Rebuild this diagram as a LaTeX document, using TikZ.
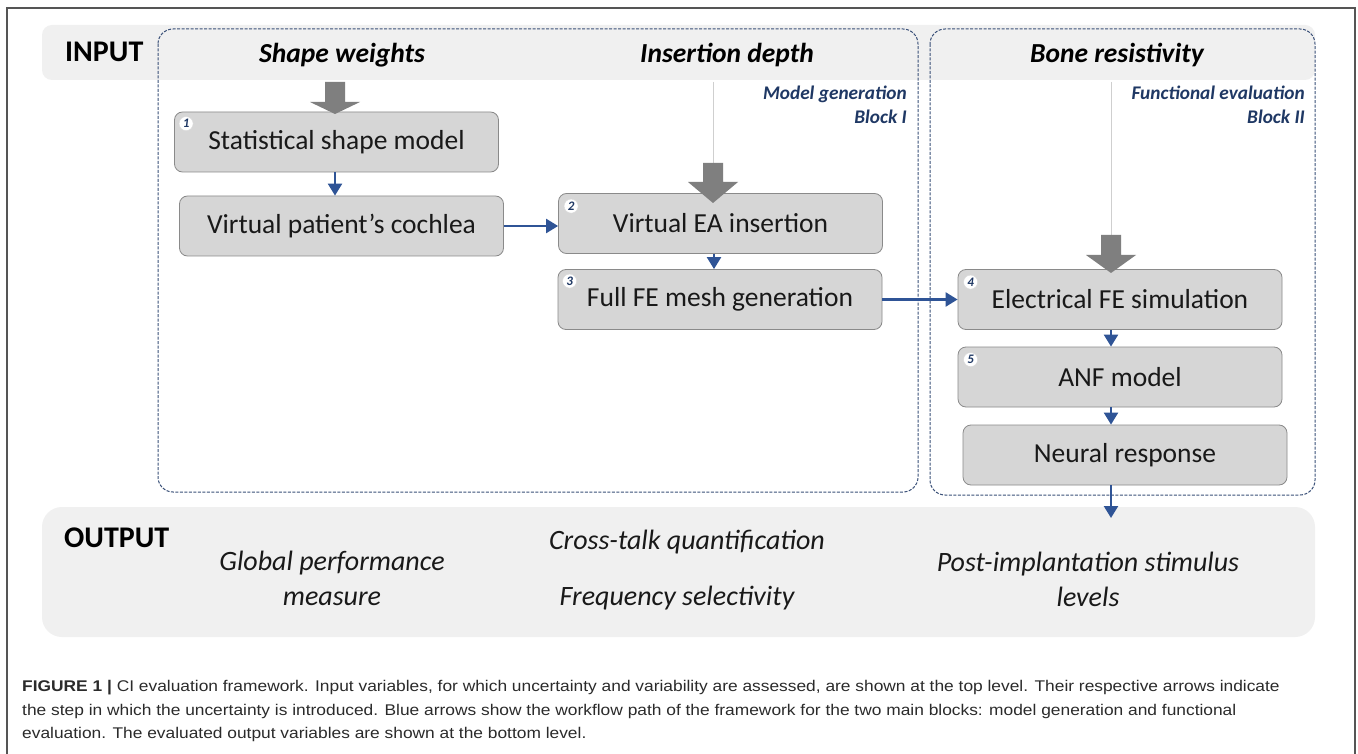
\documentclass[tikz,border=0pt]{standalone}
\usepackage{fontspec}
\usepackage{graphicx}
\setmainfont{Carlito}
\newfontfamily\capfont{Liberation Sans}
\usetikzlibrary{arrows.meta,calc}

\definecolor{bandgray}{HTML}{F0F0F0}
\definecolor{boxfill}{HTML}{D6D6D6}
\definecolor{boxline}{HTML}{8A8A8A}
\definecolor{dashblue}{HTML}{3A5078}
\definecolor{flowblue}{HTML}{2F5496}
\definecolor{navy}{HTML}{1F3864}
\definecolor{arrowgray}{HTML}{7F7F7F}
\definecolor{thingray}{HTML}{CFCFCF}
\definecolor{captext}{HTML}{2B2B2B}
\definecolor{framegray}{HTML}{555555}

\newcommand\bigarrow[3]{% tip, shaft length, head length
  \fill[arrowgray] ($(#1)+(-10,-#2-#3)$) -- ($(#1)+(10,-#2-#3)$) -- ($(#1)+(10,-#3)$) -- ($(#1)+(25,-#3)$) -- (#1) -- ($(#1)+(-25,-#3)$) -- ($(#1)+(-10,-#3)$) -- cycle;}
\newcommand\capstretch[1]{\scalebox{1.12}[1]{#1}}

\begin{document}
\begin{tikzpicture}[x=1pt,y=-1pt,
  band/.style={fill=bandgray, draw=none, rounded corners=10pt},
  blockframe/.style={draw=dashblue, line width=1pt, dash pattern=on 3pt off 1.5pt, rounded corners=15pt},
  stepbox/.style={draw=boxline, fill=boxfill, rounded corners=8pt, line width=0.8pt,
    minimum width=324pt, minimum height=60pt, inner sep=0pt,
    font=\fontsize{27.5}{32}\selectfont, text=black!90},
  badge/.style={circle, fill=white, draw=white!85!black, line width=0.4pt, inner sep=0pt, minimum size=14pt,
    font=\fontsize{13}{14}\selectfont\bfseries\itshape, text=navy},
  heading/.style={font=\fontsize{27.5}{32}\selectfont\bfseries\itshape, text=black},
  levellabel/.style={font=\fontsize{30}{34}\selectfont\bfseries, text=black, anchor=west, inner sep=0pt},
  blocklabel/.style={font=\fontsize{19.3}{24}\selectfont\bfseries\itshape, text=navy, align=right, anchor=north east, inner sep=0pt},
  outvar/.style={font=\fontsize{28}{35}\selectfont\itshape, text=black!90, align=center, inner sep=0pt},
  flow/.style={draw=flowblue, line width=2.3pt, -{Triangle[length=12pt,width=14pt]}},
  thinline/.style={draw=thingray, line width=0.8pt},
  captionline/.style={font=\capfont\fontsize{15.5}{20}\selectfont, text=captext, anchor=west, inner sep=0pt}
]
\useasboundingbox (0,0) rectangle (1358,754);
\fill[white] (0,0) rectangle (1358,754);
% outer frame
\draw[framegray, line width=1.2pt] (7,760) -- (7,8) -- (1355,8) -- (1355,760);

% bands
\path[band] (42,25) rectangle (1315,80);
\path[band, rounded corners=20pt] (42,507) rectangle (1315,637);

% block frames
\draw[blockframe] (158,29) rectangle (918,492);
\draw[blockframe] (930,29) rectangle (1315,495);

% level labels
\node[levellabel] (input) at (65,52) {INPUT};
\node[levellabel] (output) at (64,538) {OUTPUT};

% input headings
\node[heading] (sw) at (342,55) {Shape weights};
\node[heading] (id) at (727,55) {Insertion depth};
\node[heading] (br) at (1117,55) {Bone resistivity};

% block labels
\node[blocklabel] (blk1) at (907,86) {Model generation\\Block I};
\node[blocklabel] (blk2) at (1305,86) {Functional evaluation\\Block II};

% column coordinates
\coordinate (c1) at (335,0);
\coordinate (c2) at (714,0);
\coordinate (c4) at (1111,0);

% boxes
\node[stepbox] (b1) at (336.5,142) {Statistical shape model};
\node[stepbox] (bv) at (341.5,226) {Virtual patient's cochlea};
\node[stepbox] (b2) at (720.5,223.5) {Virtual EA insertion};
\node[stepbox] (b3) at (720,299.5) {Full FE mesh generation};
\node[stepbox] (b4) at (1120,299.5) {Electrical FE simulation};
\node[stepbox] (b5) at (1120,377) {ANF model};
\node[stepbox] (bn) at (1125,455) {Neural response};

% badges
\node[badge] (n1) at ($(b1.north west)+(12,12)$) {1};
\node[badge] (n2) at ($(b2.north west)+(13,13)$) {2};
\node[badge] (n3) at ($(b3.north west)+(12,12)$) {3};
\node[badge] (n4) at ($(b4.north west)+(13,13)$) {4};
\node[badge] (n5) at ($(b5.north west)+(13,13)$) {5};

% thin input lines and big gray arrows
\coordinate (t1) at (335,114);
\coordinate (t2) at (713,203);
\coordinate (t4) at (1111,273);
\coordinate (l2) at (713,82);
\coordinate (l4) at (1111,82);
\draw[thinline] (l2) -- ($(t2)+(0,-40)$);
\draw[thinline] (l4) -- ($(t4)+(0,-38)$);
\bigarrow{t1}{20}{12}
\bigarrow{t2}{19}{21}
\bigarrow{t4}{20}{18}

% blue workflow arrows
\draw[flow] (b1.south -| c1) -- (bv.north -| c1);
\draw[flow] (bv.east) -- (b2.west |- bv.east);
\draw[flow] (b2.south -| c2) -- (b3.north -| c2);
\draw[flow] (b3.east) -- (b4.west |- b3.east);
\draw[flow] (b4.south -| c4) -- (b5.north -| c4);
\draw[flow] (b5.south -| c4) -- (bn.north -| c4);
\coordinate (outtip) at (1111,518);
\draw[flow] (bn.south -| c4) -- (outtip);

% output variables
\node[outvar] (gp) at (332,578) {Global performance\\measure};
\node[outvar] (ct) at (687,542) {Cross-talk quantification};
\node[outvar] (fs) at (677,598) {Frequency selectivity};
\node[outvar] (pi) at (1088,579) {Post-implantation stimulus\\levels};

% caption
\node[captionline] (cap1) at (22,688) {\capstretch{\textbf{FIGURE 1 |} CI evaluation framework. Input variables, for which uncertainty and variability are assessed, are shown at the top level. Their respective arrows indicate}};
\node[captionline] (cap2) at (22,711) {\capstretch{the step in which the uncertainty is introduced. Blue arrows show the workflow path of the framework for the two main blocks: model generation and functional}};
\node[captionline] (cap3) at (22,734) {\capstretch{evaluation. The evaluated output variables are shown at the bottom level.}};
\end{tikzpicture}
\end{document}
